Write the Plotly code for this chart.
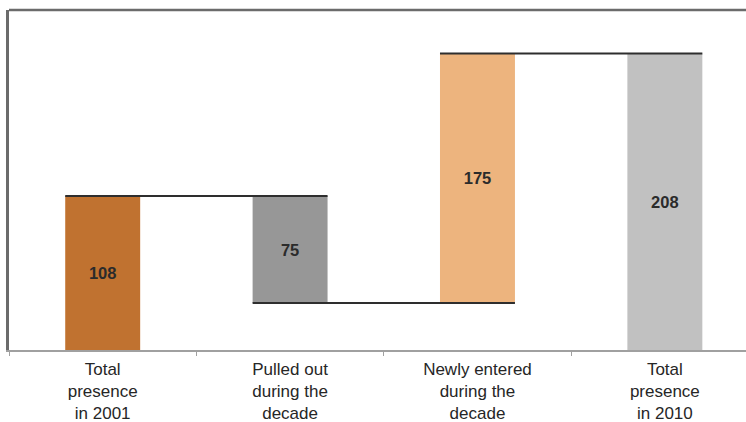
import plotly.graph_objects as go

# Categories and the change at each step of the waterfall
categories = ["Total<br>presence<br>in 2001", "Pulled out<br>during the<br>decade",
              "Newly entered<br>during the<br>decade", "Total<br>presence<br>in 2010"]
changes = [108, -75, 175, 208]
is_total = [True, False, False, True]
bar_colors = ["#C07230", "#979797", "#EDB47E", "#C1C1C1"]

# Floating bar geometry derived from the running total
bases, heights, levels = [], [], []
running = 0
for v, tot in zip(changes, is_total):
    if tot:
        bases.append(0)
        heights.append(v)
        running = v
    else:
        new = running + v
        bases.append(min(running, new))
        heights.append(abs(v))
        running = new
    levels.append(running)

bar_w = 0.4
x_range = [-0.5, 3.433]
y_range = [0, 238.6]

fig = go.Figure()
fig.add_trace(go.Bar(
    x=list(range(len(categories))),
    y=heights,
    base=bases,
    width=bar_w,
    marker=dict(color=bar_colors, line=dict(width=0)),
    text=[str(h) for h in heights],
    textposition="inside",
    insidetextanchor="middle",
    textangle=0,
    textfont=dict(family="Liberation Sans, Arial, sans-serif", size=16.5,
                  color="#2b2b2b", weight="bold"),
    showlegend=False,
    hoverinfo="skip",
))

# Connector lines: the level after each step runs from the left edge of
# that bar to the right edge of the next one
for i in range(len(categories) - 1):
    fig.add_trace(go.Scatter(
        x=[i - bar_w / 2, i + 1 + bar_w / 2],
        y=[levels[i], levels[i]],
        mode="lines",
        line=dict(color="#2e2e2e", width=2),
        xaxis="x2", yaxis="y",
        showlegend=False, hoverinfo="skip",
    ))

fig.update_layout(
    width=746, height=422,
    margin=dict(l=9, r=0, t=10, b=72, autoexpand=False),
    paper_bgcolor="white", plot_bgcolor="white",
    xaxis=dict(
        type="category",
        tickmode="array",
        tickvals=list(range(len(categories))),
        ticktext=categories,
        range=x_range,
        automargin=False,
        tickson="boundaries",
        ticks="outside", ticklen=4, tickcolor="#a0a0a0", tickwidth=1,
        ticklabelstandoff=3,
        showline=True, linecolor="#a0a0a0", linewidth=1.5,
        showgrid=False, zeroline=False,
        tickfont=dict(family="Liberation Sans, Arial, sans-serif", size=17, color="#262626"),
    ),
    xaxis2=dict(
        overlaying="x", range=x_range, visible=False, showgrid=False, zeroline=False,
    ),
    yaxis=dict(
        range=y_range,
        automargin=False,
        showticklabels=False, ticks="",
        showgrid=False, zeroline=False,
        showline=True, linecolor="#6b6b6b", linewidth=2.5,
    ),
    shapes=[dict(type="line", xref="paper", yref="paper",
                 x0=0, x1=1, y0=1, y1=1,
                 line=dict(color="#6b6b6b", width=2.5))],
)

fig.write_html("out.html")
